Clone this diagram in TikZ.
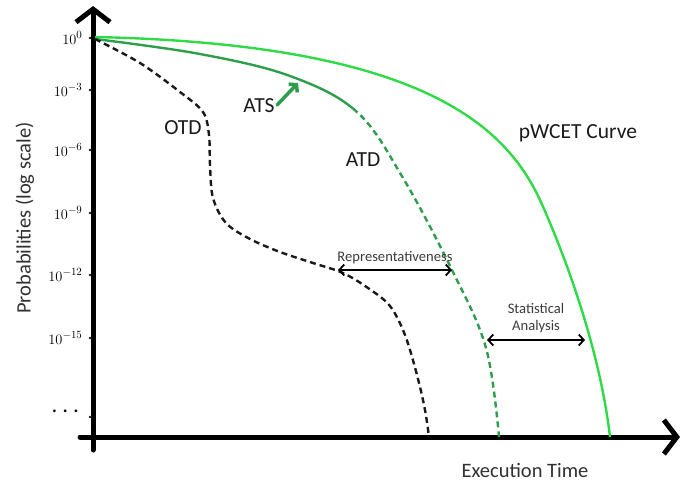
\documentclass[tikz,border=0pt]{standalone}
\usepackage{fontspec}
\setmainfont{Carlito}
\usepackage{tikz}
\usetikzlibrary{positioning,arrows.meta,calc}
\definecolor{pwcet}{HTML}{2EDB45}
\definecolor{ats}{HTML}{2E9E4C}
\definecolor{ink}{HTML}{1A1A1A}
% measured tail: solid for the ATS, dashed for the ATD
\newcommand{\atdpath}{plot[smooth,tension=0.6] coordinates {
    (95,39) (200,54) (290,76) (357,112) (403,178) (452,270) (486,348) (499,437)}}

\begin{document}
\begin{tikzpicture}[x=1pt,y=-1pt,
    axisline/.style={line width=5pt,line cap=round,-{Straight Barb[length=13pt,width=34pt,line width=5pt]}},
    ticklabel/.style={anchor=east,font=\fontsize{15.5}{17}\selectfont},
    curvelabel/.style={font=\fontsize{21.5}{24}\selectfont,text=ink},
    axislabel/.style={font=\fontsize{20.5}{23}\selectfont,text=ink!90},
    smalllabel/.style={font=\fontsize{14.6}{16.5}\selectfont,text=ink!85,align=center},
    gap/.style={line width=1.8pt,{Straight Barb[length=5pt,width=11pt]}-{Straight Barb[length=5pt,width=11pt]}}]
  \useasboundingbox (0,0) rectangle (695,485);
  % axes
  \coordinate (ybot) at (93,450);
  \coordinate (ytop) at (93,6);
  \coordinate (xleft) at (80,437);
  \coordinate (xright) at (680,437);
  \draw[axisline] (ybot) -- (ytop);
  \draw[axisline] (xleft) -- (xright);
  % probability levels
  \foreach \ylab/\ypos in {{$10^{0}$}/38,{$10^{-3}$}/90,{$10^{-6}$}/150,{$10^{-9}$}/213,{$10^{-12}$}/275,{$10^{-15}$}/338} {
    \node[ticklabel] at (86,\ypos) {\ylab};
    \fill[ink] (90,\ypos) circle (1.3pt);
  }
  \node[ticklabel,font=\fontsize{18}{20}\selectfont\bfseries] (dots) at (82,411) {.\,\,.\,\,.};
  \fill[ink] (90,417) circle (1.3pt);
  \node[axislabel,rotate=90] (ylabel) at (25,218) {Probabilities (log scale)};
  \node[axislabel] (xlabel) at (525,470) {Execution Time};
  % pWCET curve
  \draw[pwcet,line width=2.4pt] (95,37) .. controls (420,44) and (505,125) .. (540,200)
    .. controls (565,255) and (600,350) .. (610,437);
  % ATS and ATD
  \begin{scope}
    \clip (94,0) rectangle (357,440);
    \draw[ats,line width=2.4pt] \atdpath;
  \end{scope}
  \begin{scope}
    \clip (357,0) rectangle (690,440);
    \draw[ats,line width=2.4pt,dash pattern=on 6pt off 4pt] \atdpath;
  \end{scope}
  % OTD
  \draw[ink,line width=2.4pt,dash pattern=on 6pt off 4pt] plot[smooth,tension=0.55] coordinates {
    (95,39) (140,63) (180,92) (203,112) (209,135) (210,165) (213,198) (226,223) (250,239) (280,252) (313,263) (343,273) (368,288) (390,306) (405,335) (417,375) (425,410) (429,437)};
  % labels on the curves
  \node[curvelabel] (pwcetlabel) at (578,133) {pWCET Curve};
  \node[curvelabel] (atdlabel) at (363,160) {ATD};
  \node[curvelabel] (otdlabel) at (183,128) {OTD};
  \node[curvelabel] (atslabel) at (259,106) {ATS};
  \coordinate (atstip) at (298,83);
  \draw[ats,line width=3.5pt,line cap=round,-{Straight Barb[length=5pt,width=12pt]}] (atslabel.east) ++(-1,-1) -- (atstip);
  % gaps between the curves
  \coordinate (repl) at (338,270);
  \coordinate (repr) at (452,270);
  \draw[gap] (repl) -- (repr);
  \node[smalllabel,above=3pt of $(repl)!0.5!(repr)$] (replabel) {Representativeness};
  \coordinate (statl) at (487,340);
  \coordinate (statr) at (585,340);
  \draw[gap] (statl) -- (statr);
  \node[smalllabel,above=4pt of $(statl)!0.5!(statr)$] (statlabel) {Statistical\\Analysis};
\end{tikzpicture}
\end{document}
